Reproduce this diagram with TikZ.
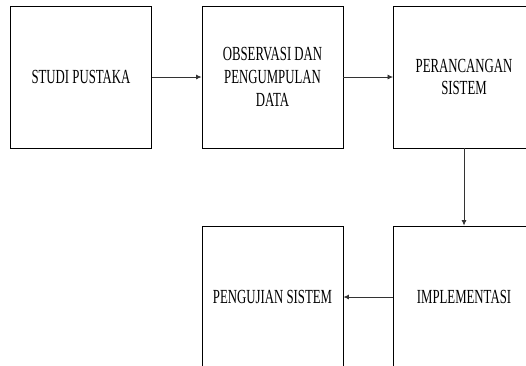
\documentclass[tikz,border=0pt]{standalone}
\usepackage{fontspec}
\setmainfont{Liberation Serif}[FakeStretch=0.64]
\usetikzlibrary{arrows.meta}
\begin{document}
\begin{tikzpicture}[x=1pt,y=-1pt,
  stepbox/.style={draw=black,line width=0.9pt,minimum width=141pt,minimum height=142pt,inner sep=0pt,align=center,
    font=\fontsize{20pt}{22.7pt}\selectfont},
  arr/.style={draw=black!80,line width=0.8pt,-{Latex[length=5.5pt,width=5pt]}}]
\useasboundingbox (0,0) rectangle (526,365);
\clip (0,0) rectangle (526,365);
\node[stepbox] (b1) at (81,77) {STUDI PUSTAKA};
\node[stepbox] (b2) at (272.5,77) {OBSERVASI DAN\\PENGUMPULAN\\DATA};
\node[stepbox] (b3) at (464,77) {PERANCANGAN\\SISTEM};
\node[stepbox] (b4) at (464,297) {IMPLEMENTASI};
\node[stepbox] (b5) at (272.5,297) {PENGUJIAN SISTEM};
\draw[arr] (b1.east) -- (b2.west);
\draw[arr] (b2.east) -- (b3.west);
\draw[arr] (b3.south) -- (b4.north);
\draw[arr] (b4.west) -- (b5.east);
\end{tikzpicture}
\end{document}
